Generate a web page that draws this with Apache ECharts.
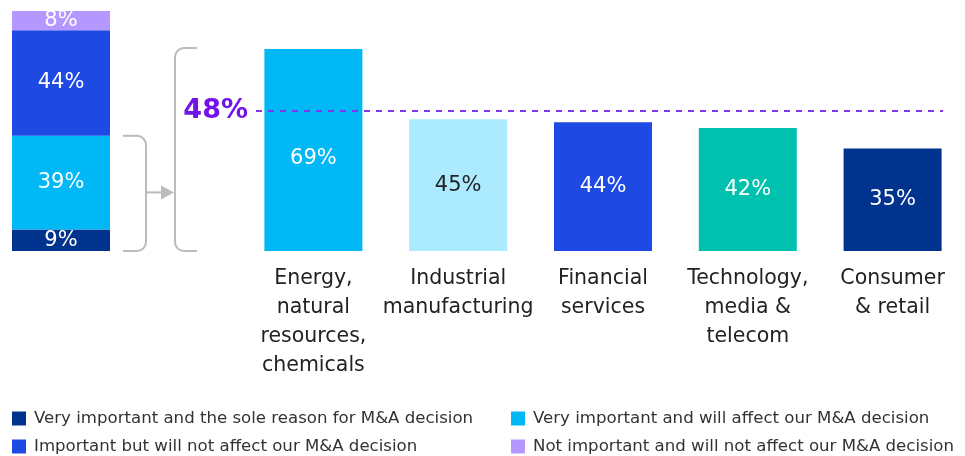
<!DOCTYPE html>
<html>
<head>
<meta charset="utf-8">
<style>
  html, body { margin: 0; padding: 0; background: #fff; }
  #chart { width: 965px; height: 456px; }
</style>
<script src="https://cdn.jsdelivr.net/npm/echarts@6/dist/echarts.min.js"></script>
</head>
<body>
<div id="chart"></div>
<script>
// overall answer split (left stacked bar), bottom to top
const overallNames = [
  'Very important and the sole reason for M&A decision',
  'Very important and will affect our M&A decision',
  'Important but will not affect our M&A decision',
  'Not important and will not affect our M&A decision'
];
const overallValues = [9, 39, 44, 8];
const overallColors = ['#00338D', '#00B8F5', '#1E49E2', '#B497FF'];

// by sector
const sectors = [
  'Energy,\nnatural\nresources,\nchemicals',
  'Industrial\nmanufacturing',
  'Financial\nservices',
  'Technology,\nmedia &\ntelecom',
  'Consumer\n& retail'
];
const sectorValues = [69, 45, 44, 42, 35];
const sectorColors = ['#00B8F5', '#ACEAFF', '#1E49E2', '#00C0AE', '#00338D'];
const sectorLabelColors = ['#fff', '#222', '#fff', '#fff', '#fff'];
const average = 48;

const font = "'DejaVu Sans', 'Liberation Sans', sans-serif";
const gray = '#BBBBBB';

let chart = echarts.init(document.getElementById('chart'));

let series = overallValues.map(function (v, i) {
  return {
    name: overallNames[i],
    type: 'bar',
    stack: 'all',
    xAxisIndex: 0,
    yAxisIndex: 0,
    barWidth: '100%',
    itemStyle: { color: overallColors[i] },
    label: {
      show: true,
      position: 'inside',
      formatter: '{c}%',
      color: '#fff',
      fontSize: 21,
      fontFamily: font
    },
    data: [v]
  };
});

series.push({
  name: 'sector',
  type: 'bar',
  xAxisIndex: 1,
  yAxisIndex: 1,
  barWidth: 98,
  data: sectorValues.map(function (v, i) {
    return {
      value: v,
      itemStyle: { color: sectorColors[i] },
      label: { color: sectorLabelColors[i], offset: [0, i === 0 ? 9 : 0] }
    };
  }),
  label: {
    show: true,
    position: 'inside',
    formatter: '{c}%',
    fontSize: 21,
    fontFamily: font
  },
  markLine: {
    silent: true,
    symbol: 'none',
    lineStyle: { color: '#8236EE', type: [6, 6], width: 2 },
    label: {
      position: 'start',
      formatter: average + '%',
      color: '#7213EA',
      fontSize: 27,
      fontWeight: 'bold',
      fontFamily: font,
      distance: 8
    },
    // dashed line runs from just right of the big bracket to the last bar
    data: [[{ x: 256, yAxis: average }, { x: 943, yAxis: average }]]
  }
});

// one legend per item, two columns
const legendSpots = [[12, 410], [511, 410], [12, 438], [511, 438]];
let legends = overallNames.map(function (n, i) {
  return {
    left: legendSpots[i][0],
    top: legendSpots[i][1],
    padding: 0,
    itemWidth: 14,
    itemHeight: 14,
    itemGap: 8,
    icon: 'rect',
    textStyle: { fontSize: 16.6, color: '#333', fontFamily: font, padding: [0, 0, 0, 3] },
    data: [n]
  };
});

let option = {
  animation: false,
  textStyle: { fontFamily: font },
  grid: [
    { left: 12, top: 11, width: 98, height: 240 },
    { left: 241, top: 11, width: 728, height: 240 }
  ],
  xAxis: [
    { gridIndex: 0, type: 'category', data: ['All'], show: false },
    {
      gridIndex: 1,
      type: 'category',
      data: sectors,
      axisLine: { show: false },
      axisTick: { show: false },
      axisLabel: {
        interval: 0,
        margin: 13,
        fontSize: 20.5,
        lineHeight: 29,
        color: '#222',
        fontFamily: font
      }
    }
  ],
  yAxis: [
    { gridIndex: 0, type: 'value', min: 0, max: 100, show: false },
    { gridIndex: 1, type: 'value', min: 0, max: 82, show: false }
  ],
  legend: legends,
  series: series
};
chart.setOption(option);

// brackets + arrow, placed from the axes
let yBase = chart.convertToPixel({ yAxisIndex: 0 }, 0);
let yVeryImp = chart.convertToPixel({ yAxisIndex: 0 }, overallValues[0] + overallValues[1]);
let yMax = chart.convertToPixel({ yAxisIndex: 1 }, Math.max.apply(null, sectorValues)) - 1;
let yMid = (yBase + yVeryImp) / 2 - 1;
const r = 9;
const lineStyle = { stroke: gray, lineWidth: 2, fill: null };

let graphics = [
  // small bracket, opens left
  { type: 'polyline', shape: { points: [[123, yVeryImp], [146 - r, yVeryImp]] }, style: lineStyle },
  { type: 'arc', shape: { cx: 146 - r, cy: yVeryImp + r, r: r, startAngle: -Math.PI / 2, endAngle: 0, clockwise: true }, style: lineStyle },
  { type: 'polyline', shape: { points: [[146, yVeryImp + r], [146, yBase - r]] }, style: lineStyle },
  { type: 'arc', shape: { cx: 146 - r, cy: yBase - r, r: r, startAngle: 0, endAngle: Math.PI / 2, clockwise: true }, style: lineStyle },
  { type: 'polyline', shape: { points: [[146 - r, yBase], [123, yBase]] }, style: lineStyle },
  // arrow
  { type: 'polyline', shape: { points: [[146, yMid], [162, yMid]] }, style: lineStyle },
  { type: 'polygon', shape: { points: [[161, yMid - 7], [174, yMid], [161, yMid + 7]] }, style: { fill: gray } },
  // big bracket, opens right
  { type: 'polyline', shape: { points: [[197, yMax], [175 + r, yMax]] }, style: lineStyle },
  { type: 'arc', shape: { cx: 175 + r, cy: yMax + r, r: r, startAngle: Math.PI, endAngle: Math.PI * 1.5, clockwise: true }, style: lineStyle },
  { type: 'polyline', shape: { points: [[175, yMax + r], [175, yBase - r]] }, style: lineStyle },
  { type: 'arc', shape: { cx: 175 + r, cy: yBase - r, r: r, startAngle: Math.PI / 2, endAngle: Math.PI, clockwise: true }, style: lineStyle },
  { type: 'polyline', shape: { points: [[175 + r, yBase], [197, yBase]] }, style: lineStyle }
];
chart.setOption({ graphic: graphics });

window.addEventListener('resize', function () { chart.resize(); });
</script>
</body>
</html>
